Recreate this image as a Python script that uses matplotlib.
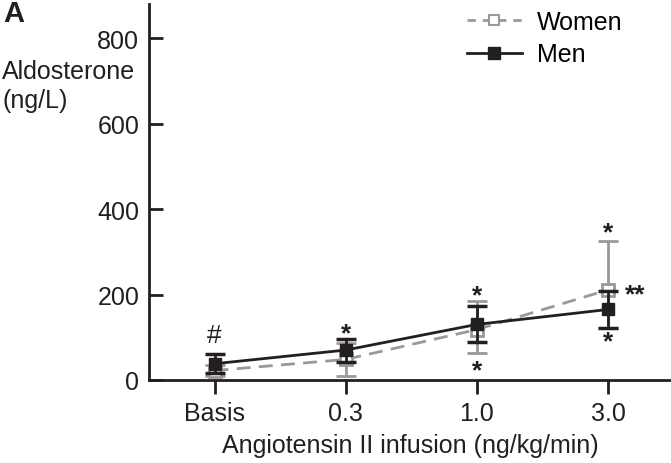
import matplotlib
matplotlib.use("Agg")
import matplotlib.pyplot as plt
from matplotlib.lines import Line2D
import numpy as np

plt.rcParams['font.family'] = ['Liberation Sans', 'DejaVu Sans']

categories = ["Basis", "0.3", "1.0", "3.0"]
women = [22, 48, 118, 211]
women_err_low = [12, 38, 55, 90]
women_err_high = [12, 38, 67, 114]
men = [38, 70, 130, 165]
men_err = [22, 27, 42, 43]

GRAY = '#999999'
DARK = '#231f20'

fig = plt.figure(figsize=(6.71, 4.64), dpi=100)
ax = fig.add_axes([0.222, 0.179, 0.778, 0.810])
x = np.arange(len(categories))

ax.errorbar(x, women, yerr=[women_err_low, women_err_high], color=GRAY, ls=(0, (5, 3)),
            lw=2, marker='s', ms=8, mfc='white', mec=GRAY, mew=2,
            capsize=7, capthick=2, elinewidth=2, zorder=2)
ax.errorbar(x, men, yerr=men_err, color=DARK, ls='-', lw=2, marker='s', ms=9,
            mfc=DARK, mec=DARK, capsize=7, capthick=2.5, elinewidth=2, zorder=3)

ann = [("#", 0, 105, 'normal'), ("*", 1, 110, 'bold'), ("*", 2, 198, 'bold'), ("*", 2, 22, 'bold'),
       ("*", 3, 345, 'bold'), ("**", 3.21, 200, 'bold'), ("*", 3, 90, 'bold')]
for t, xi, yi, w in ann:
    ax.text(xi, yi, t, ha='center', va='center', fontsize=19, color=DARK, fontweight=w)

ax.set_xlim(-0.5, 3.48)
ax.set_ylim(0, 880)
ax.set_yticks([0, 200, 400, 600, 800])
ax.set_xticks(x)
ax.set_xticklabels(categories)
ax.tick_params(axis='y', direction='in', length=10, width=2, labelsize=18, pad=7, colors=DARK)
ax.tick_params(axis='x', direction='out', length=10, width=2, labelsize=18, pad=5, colors=DARK)
for s in ['top', 'right']:
    ax.spines[s].set_visible(False)
for s in ['left', 'bottom']:
    ax.spines[s].set_linewidth(2)
    ax.spines[s].set_color(DARK)

ax.set_xlabel("Angiotensin II infusion (ng/kg/min)", fontsize=18, labelpad=6, color=DARK)
fig.text(0.003, 0.813, "Aldosterone\n(ng/L)", fontsize=18, ha='left', va='center', color=DARK, linespacing=1.25)
fig.text(0.005, 1.0, "A", fontsize=21, fontweight='bold', ha='left', va='top', color=DARK)

handles = [
    Line2D([], [], color=GRAY, ls=(0, (3, 2.5)), lw=2, marker='s', ms=7, mfc='white', mec=GRAY, mew=1.5),
    Line2D([], [], color=DARK, ls='-', lw=2, marker='s', ms=8, mfc=DARK, mec=DARK),
]
ax.legend(handles, ['Women', 'Men'], loc='upper right', bbox_to_anchor=(0.95, 1.045), frameon=False,
          fontsize=18, handlelength=2.2, handletextpad=0.6, labelspacing=0.35)

fig.savefig("out.png", dpi=100)
